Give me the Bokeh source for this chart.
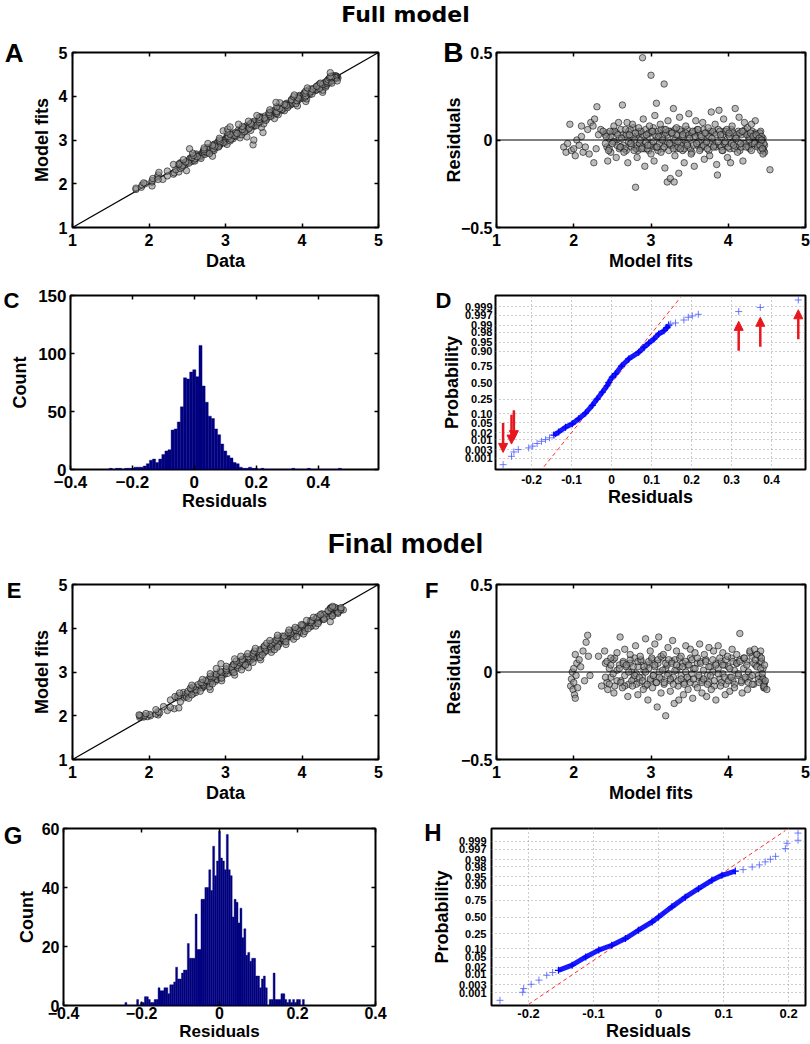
import numpy as np
from statistics import NormalDist
from bokeh.plotting import figure
from bokeh.layouts import row, column
from bokeh.models import Range1d, FixedTicker, LinearAxis, Span, Label, Arrow, NormalHead
from bokeh.embed import file_html
from bokeh.resources import INLINE

# ---------------------------------------------------------------- data
core_fits = [2.41, 2.43, 2.46, 2.48, 2.51, 2.53, 2.56, 2.59, 2.61, 2.64,
             2.66, 2.68, 2.71, 2.73, 2.75, 2.77, 2.79, 2.81, 2.83, 2.85,
             2.87, 2.89, 2.91, 2.93, 2.95, 2.97, 2.99, 3.01, 3.03, 3.05,
             3.07, 3.09, 3.11, 3.13, 3.15, 3.17, 3.19, 3.21, 3.23, 3.25,
             3.27, 3.29, 3.31, 3.33, 3.35, 3.37, 3.39, 3.41, 3.43, 3.45,
             3.47, 3.49, 3.51, 3.53, 3.55, 3.57, 3.60, 3.62, 3.64, 3.66,
             3.68, 3.71, 3.73, 3.75, 3.77, 3.80, 3.82, 3.84, 3.87, 3.89,
             3.91, 3.93, 3.95, 3.97, 4.00, 4.02, 4.04, 4.06, 4.08, 4.11,
             4.13, 4.15, 4.17, 4.20, 4.22, 4.24, 4.26, 4.28, 4.31, 4.33,
             4.35, 4.37, 4.39, 4.41, 4.42, 4.43, 4.44, 4.45, 4.46, 4.47]
core_resid_full = [0.03, -0.04, 0.01, -0.07, 0.05, -0.01, 0.04, -0.05, 0.06, -0.03,
                   0.02, -0.06, 0.05, -0.02, 0.00, 0.07, -0.04, 0.02, -0.06, 0.05,
                   -0.02, 0.03, -0.05, 0.06, 0.01, -0.06, 0.04, -0.02, 0.07, -0.04,
                   0.02, -0.06, 0.04, 0.00, -0.05, 0.06, -0.02, 0.03, -0.06, 0.05,
                   -0.03, 0.01, 0.06, -0.05, 0.03, -0.01, 0.05, -0.06, 0.02, -0.02,
                   0.06, -0.04, 0.03, -0.07, 0.01, 0.05, -0.03, 0.04, -0.05, 0.00,
                   0.06, -0.02, 0.03, -0.06, 0.05, -0.01, 0.04, -0.04, 0.06, -0.03,
                   0.01, -0.06, 0.05, -0.02, 0.03, -0.05, 0.06, -0.01, 0.02, -0.04,
                   0.05, -0.06, 0.03, -0.02, 0.06, -0.03, 0.02, -0.05, 0.05, -0.01,
                   0.04, -0.03, 0.03, 0.00, 0.05, -0.02, -0.04, 0.01, -0.06, -0.03]
core_resid_full_2 = [-0.02, 0.04, -0.05, 0.02, -0.01, 0.05, -0.03, 0.01, -0.04, 0.03,
                     -0.05, 0.03, -0.01, 0.06, -0.04, 0.02, 0.00, -0.05, 0.04, -0.02,
                     0.05, -0.04, 0.02, -0.01, -0.05, 0.04, -0.03, 0.05, -0.01, 0.03,
                     -0.04, 0.05, -0.02, 0.06, 0.02, -0.04, 0.04, -0.01, 0.05, -0.03,
                     0.04, -0.05, 0.00, 0.03, -0.04, 0.06, -0.03, 0.02, -0.05, 0.04,
                     -0.02, 0.03, -0.05, 0.04, -0.03, 0.02, 0.06, -0.01, 0.03, -0.04,
                     -0.03, 0.04, -0.05, 0.02, -0.02, 0.05, -0.03, 0.03, -0.01, 0.05,
                     -0.04, 0.03, -0.02, 0.05, -0.04, 0.02, -0.02, 0.04, -0.05, 0.03,
                     -0.01, 0.04, -0.04, 0.05, -0.02, 0.03, -0.04, 0.02, -0.02, 0.03,
                     -0.01, 0.02, -0.03, 0.04, -0.01, 0.02, 0.00, -0.05, -0.02, -0.07]
core_resid_final = [0.05, -0.06, 0.02, -0.03, 0.07, -0.08, 0.01, 0.04, -0.05, 0.06,
                    -0.02, 0.03, -0.07, 0.05, 0.00, -0.04, 0.08, -0.01, 0.03, -0.06,
                    0.06, -0.03, 0.01, -0.08, 0.04, 0.02, -0.05, 0.07, -0.02, 0.03,
                    -0.06, 0.05, 0.00, -0.04, 0.08, -0.07, 0.02, 0.04, -0.01, -0.05,
                    0.06, -0.03, 0.07, 0.01, -0.08, 0.03, -0.02, 0.05, -0.06, 0.00,
                    0.04, -0.04, 0.08, -0.01, 0.02, -0.07, 0.05, -0.03, 0.06, -0.05,
                    0.01, 0.07, -0.02, -0.06, 0.03, 0.00, -0.08, 0.05, 0.02, -0.04,
                    0.06, -0.01, 0.04, -0.07, 0.03, -0.03, 0.08, -0.05, 0.01, 0.05,
                    -0.02, 0.07, -0.06, 0.02, -0.04, 0.06, 0.00, -0.03, 0.09, -0.07,
                    0.04, 0.10, -0.02, 0.06, 0.12, -0.05, -0.03, 0.02, -0.09, -0.06]
core_resid_final_2 = [-0.03, 0.06, -0.07, 0.04, -0.01, 0.08, -0.05, 0.02, -0.06, 0.05,
                      -0.08, 0.04, 0.00, 0.07, -0.05, 0.03, -0.02, -0.07, 0.06, -0.03,
                      0.07, -0.05, 0.03, 0.00, -0.07, 0.06, -0.04, 0.08, -0.02, 0.04,
                      -0.06, 0.07, -0.03, 0.09, 0.01, -0.06, 0.05, -0.02, 0.07, -0.04,
                      0.05, -0.07, 0.01, 0.04, -0.05, 0.08, -0.04, 0.03, -0.07, 0.06,
                      -0.03, 0.04, -0.06, 0.07, -0.04, 0.02, 0.08, -0.02, 0.05, -0.06,
                      -0.04, 0.06, -0.07, 0.03, -0.02, 0.07, -0.05, 0.04, -0.01, 0.08,
                      -0.06, 0.04, -0.03, 0.07, -0.05, 0.02, -0.03, 0.06, -0.07, 0.05,
                      -0.01, 0.06, -0.05, 0.08, -0.03, 0.04, -0.06, 0.11, -0.02, 0.05,
                      0.07, 0.03, -0.04, 0.09, 0.02, 0.06, -0.01, -0.04, -0.07, -0.09]
extra_full = [(1.87, -0.04), (1.90, -0.07), (1.92, -0.02), (1.95, 0.09), (1.97, -0.06),
              (2.00, -0.05), (2.02, -0.09), (2.04, 0.00), (2.07, -0.03), (2.10, 0.08),
              (2.12, -0.07), (2.15, -0.04), (2.18, 0.06), (2.20, -0.08), (2.22, 0.10),
              (2.25, 0.08), (2.27, 0.12), (2.29, -0.05), (2.30, 0.19), (2.32, 0.03),
              (2.35, 0.06), (2.38, 0.05), (2.26, -0.13), (2.10, 0.02),
              (2.42, 0.02), (2.45, -0.06), (2.47, 0.05), (2.50, -0.02), (2.52, 0.08),
              (2.55, -0.10), (2.57, 0.03), (2.60, -0.04), (2.44, -0.12), (2.58, 0.10),
              (2.62, 0.01), (2.63, 0.20), (2.65, -0.07), (2.67, 0.06), (2.70, -0.13),
              (2.72, 0.03), (2.74, -0.02), (2.76, 0.09), (2.78, -0.06), (2.80, 0.04),
              (2.80, -0.27), (2.69, 0.10), (2.82, -0.10), (2.84, 0.07), (2.86, 0.00),
              (2.88, -0.05), (2.89, 0.47), (2.90, 0.12), (2.92, -0.15), (2.94, 0.03),
              (2.96, -0.03), (2.98, 0.08), (3.00, 0.37), (3.00, -0.08), (3.02, 0.05),
              (3.04, -0.12), (3.05, 0.14), (3.07, 0.21), (3.08, -0.04), (3.10, 0.02),
              (3.12, 0.09), (3.13, -0.07), (3.15, 0.00), (3.17, 0.32), (3.18, -0.16),
              (3.19, 0.06), (3.21, -0.24), (3.22, 0.11), (3.24, -0.02), (3.25, -0.22),
              (3.27, 0.04), (3.29, 0.18), (3.30, -0.24), (3.31, -0.09), (3.33, 0.07),
              (3.35, -0.01), (3.37, 0.13), (3.38, -0.05), (3.36, -0.19), (3.41, 0.03),
              (3.43, -0.13), (3.45, 0.08), (3.47, -0.03), (3.49, 0.15), (3.50, 0.01),
              (3.52, -0.08), (3.54, 0.05), (3.56, -0.15), (3.58, 0.11), (3.59, -0.02),
              (3.61, 0.06), (3.63, -0.06), (3.65, 0.02), (3.67, 0.10), (3.69, -0.11),
              (3.70, 0.04), (3.72, -0.01), (3.74, 0.07), (3.76, -0.09), (3.78, 0.16),
              (3.79, 0.01), (3.81, -0.04), (3.83, 0.09), (3.85, -0.14), (3.86, -0.20),
              (3.88, 0.17), (3.90, 0.03), (3.92, -0.06), (3.94, 0.12), (3.96, -0.01),
              (3.98, 0.06), (3.99, -0.10), (4.01, 0.04), (4.03, -0.13), (4.05, 0.08),
              (4.07, -0.03), (4.09, 0.18), (4.10, 0.01), (4.12, -0.07), (4.14, 0.13),
              (4.16, -0.02), (4.18, 0.05), (4.19, -0.12), (4.21, 0.10), (4.23, -0.04),
              (4.25, 0.07), (4.27, 0.00), (4.29, 0.04), (4.30, -0.06), (4.32, 0.02),
              (4.34, -0.02), (4.36, 0.03), (4.38, -0.04), (4.40, 0.01), (4.41, -0.03),
              (4.42, -0.06), (4.43, 0.00), (4.44, -0.05), (4.45, -0.08), (4.54, -0.17),
              (4.35, 0.11), (4.30, 0.09)]
extra_final = [(1.96, -0.08), (1.97, -0.04), (1.98, 0.00), (1.99, -0.10), (2.00, -0.06),
               (2.00, 0.02), (2.01, -0.13), (2.02, -0.15), (2.02, 0.10), (2.03, -0.02),
               (2.04, 0.05), (2.05, -0.09), (2.07, 0.07), (2.09, 0.03), (2.12, 0.12),
               (2.14, -0.05), (2.16, 0.17), (2.18, 0.21), (2.19, 0.09), (2.21, -0.02),
               (2.32, 0.09), (2.36, -0.08), (2.40, 0.12), (2.44, -0.10), (2.48, 0.08),
               (2.52, -0.12), (2.56, 0.11), (2.60, 0.20), (2.63, -0.09), (2.66, 0.13),
               (2.70, -0.14), (2.73, 0.10), (2.76, -0.08), (2.80, 0.15), (2.83, -0.13),
               (2.86, 0.09), (2.90, -0.10), (2.93, 0.19), (2.96, -0.16), (2.99, 0.12),
               (3.02, -0.09), (3.05, 0.16), (3.08, -0.20), (3.10, 0.20), (3.13, -0.12),
               (3.16, 0.10), (3.19, -0.25), (3.22, 0.14), (3.25, -0.11), (3.28, 0.18),
               (3.30, -0.18), (3.33, 0.12), (3.36, -0.16), (3.39, 0.09), (3.42, -0.13),
               (3.45, 0.15), (3.48, -0.10), (3.51, 0.13), (3.54, -0.15), (3.57, 0.11),
               (3.60, -0.09), (3.63, 0.16), (3.66, -0.12), (3.69, 0.10), (3.72, -0.14),
               (3.75, 0.14), (3.78, -0.10), (3.81, 0.12), (3.84, -0.16), (3.87, 0.15),
               (3.90, -0.08), (3.93, 0.11), (3.96, -0.13), (3.99, 0.09), (4.02, -0.11),
               (4.05, 0.13), (4.08, -0.09), (4.11, 0.10), (4.15, 0.22), (4.18, -0.12),
               (4.21, 0.08), (4.25, -0.10), (4.28, 0.12), (4.31, -0.07), (4.34, 0.13),
               (4.37, 0.10), (4.40, -0.06), (4.43, 0.08), (4.46, -0.08), (4.48, -0.05),
               (4.50, -0.10), (4.47, 0.04)]

hist_full_first = -0.28
hist_full_width = 0.01
hist_full_counts = [0, 1, 0, 1, 1, 0, 1, 1, 1, 2,
                    2, 2, 3, 5, 8, 9, 6, 9, 13, 16,
                    17, 34, 35, 41, 54, 79, 78, 84, 86, 80,
                    107, 72, 58, 46, 44, 35, 30, 22, 16, 12,
                    10, 6, 5, 2, 1, 1, 2, 1, 1, 0,
                    1, 0, 0, 0, 0, 0, 0, 0, 0, 0,
                    1, 0, 0, 0, 0, 1, 0, 0, 0, 0,
                    0, 0, 0, 0, 0, 1]
hist_final_first = -0.24
hist_final_width = 0.005
hist_final_counts = [1, 0, 0, 0, 0, 0, 2, 0, 1, 1,
                     3, 3, 2, 1, 1, 2, 2, 6, 5, 5,
                     6, 6, 4, 7, 7, 8, 13, 9, 9, 11,
                     12, 12, 21, 16, 16, 16, 31, 19, 19, 36,
                     36, 40, 40, 46, 39, 54, 44, 49, 59, 50,
                     49, 46, 58, 46, 44, 30, 36, 35, 28, 33,
                     23, 26, 17, 18, 15, 16, 16, 10, 10, 6,
                     9, 10, 6, 0, 2, 2, 11, 2, 2, 2,
                     4, 4, 2, 1, 2, 1, 2, 1, 2, 2,
                     0, 2]

npp_full_body_res = [-0.144, -0.132, -0.115, -0.098, -0.082, -0.065, -0.048, -0.036,
                     -0.023, -0.011, -0.007, 0.002, 0.010, 0.025, 0.043, 0.068,
                     0.081, 0.093, 0.106, 0.118, 0.131, 0.139, 0.143]
npp_full_body_prob = [0.016, 0.0217, 0.034, 0.046, 0.069, 0.106, 0.176, 0.25,
                      0.347, 0.447, 0.50, 0.587, 0.637, 0.749, 0.832, 0.891,
                      0.924, 0.946, 0.962, 0.976, 0.9826, 0.9875, 0.9904]
npp_full_tail_res = [-0.271, -0.250, -0.244, -0.233, -0.207, -0.197, -0.186, -0.175,
                     -0.165, -0.155, 0.148, 0.160, 0.181, 0.192, 0.202, 0.217,
                     0.318, 0.372, 0.467]
npp_full_tail_prob = [0.0004, 0.0013, 0.0023, 0.0031, 0.0038, 0.0047, 0.0064, 0.0082,
                      0.0099, 0.012, 0.9915, 0.99245, 0.9946, 0.9961, 0.9967, 0.9973,
                      0.9981, 0.9989, 0.99962]
npp_full_ref_res = [-0.169, 0.1725]
npp_full_ref_prob = [0.00029, 0.99974]
npp_full_marked_low = [0, 1, 2]
npp_full_marked_high = [16, 17, 18]

npp_final_body_res = [-0.154, -0.133, -0.112, -0.092, -0.072, -0.051, -0.031, -0.010,
                      0.000, 0.0205, 0.041, 0.0615, 0.082, 0.0975, 0.118]
npp_final_body_prob = [0.015, 0.025, 0.052, 0.089, 0.125, 0.19, 0.295, 0.42,
                       0.50, 0.66, 0.79, 0.875, 0.932, 0.955, 0.969]
npp_final_tail_res = [-0.244, -0.209, -0.2075, -0.196, -0.184, -0.172, -0.163,
                      0.130, 0.144, 0.155, 0.164, 0.172, 0.180, 0.195, 0.1975,
                      0.2145, 0.2145]
npp_final_tail_prob = [0.00035, 0.0011, 0.0018, 0.0031, 0.0051, 0.0089, 0.012,
                       0.973, 0.979, 0.983, 0.9875, 0.9906, 0.9932, 0.9973, 0.99865,
                       0.9991, 0.99968]
npp_final_ref_res = [-0.200, 0.195]
npp_final_ref_prob = [0.00019, 0.99978]

prob_ticks = [0.001, 0.003, 0.01, 0.02, 0.05, 0.10, 0.25, 0.50, 0.75, 0.90,
              0.95, 0.98, 0.99, 0.997, 0.999]
prob_tick_labels = ["0.001", "0.003", "0.01", "0.02", "0.05", "0.10", "0.25", "0.50",
                    "0.75", "0.90", "0.95", "0.98", "0.99", "0.997", "0.999"]

# ---------------------------------------------------------------- helpers
FONT = "Liberation Sans"
ND = NormalDist()


def zq(ps):
    return [ND.inv_cdf(p) for p in ps]


def fmt(t, minus="\u2212"):
    if t == 0:
        return "0"
    return (minus if t < 0 else "") + ("%g" % abs(t))


def make_fig(w, h, bl, br, bt, bb, xr, yr):
    p = figure(width=w, height=h, x_range=Range1d(*xr), y_range=Range1d(*yr),
               output_backend="svg", toolbar_location=None,
               min_border_left=bl, min_border_right=br,
               min_border_top=bt, min_border_bottom=bb)
    p.xgrid.visible = False
    p.ygrid.visible = False
    p.outline_line_color = "black"
    p.outline_line_width = 2
    p.outline_line_alpha = 1
    return p


def style_axis(ax, ticks, labels, tsize, tstand, lsize, lstand, tick_in=4):
    ax.ticker = FixedTicker(ticks=ticks)
    ax.major_label_overrides = {t: l for t, l in zip(ticks, labels)}
    ax.major_label_text_font = FONT
    ax.major_label_text_font_style = "bold"
    ax.major_label_text_font_size = f"{tsize}px"
    ax.major_label_text_color = "black"
    ax.major_label_standoff = tstand
    ax.axis_label_text_font = FONT
    ax.axis_label_text_font_style = "bold"
    ax.axis_label_text_font_size = f"{lsize}px"
    ax.axis_label_text_color = "black"
    ax.axis_label_standoff = lstand
    ax.major_tick_in = tick_in
    ax.major_tick_out = 0
    ax.major_tick_line_width = 1.5
    ax.minor_tick_line_color = None
    ax.axis_line_color = None


def add_box(p, xticks, yticks):
    for side, ticks in (("above", xticks), ("right", yticks)):
        ax = LinearAxis(ticker=FixedTicker(ticks=ticks),
                        major_label_overrides={t: "" for t in ticks},
                        major_label_standoff=0, major_label_text_font_size="1px",
                        major_tick_in=4, major_tick_out=0, major_tick_line_width=1.5,
                        minor_tick_line_color=None, axis_line_color=None)
        p.add_layout(ax, side)


def letter_axis(p, txt, size, standoff, px_below, frame_h):
    """Panel letter drawn as the single tick label of an outer left axis."""
    yr = p.y_range
    yv = yr.end - px_below * (yr.end - yr.start) / frame_h
    ax = LinearAxis(ticker=FixedTicker(ticks=[yv]), major_label_overrides={yv: txt},
                    major_label_text_font=FONT, major_label_text_font_style="bold",
                    major_label_text_font_size=f"{size}px", major_label_text_color="black",
                    major_label_standoff=standoff, major_tick_in=0, major_tick_out=0,
                    major_tick_line_color=None, minor_tick_line_color=None,
                    axis_line_color=None)
    p.add_layout(ax, "left")


def title_fig(h, txt, font, size, ymid):
    p = figure(width=810, height=h, x_range=Range1d(0, 1), y_range=Range1d(0, 1),
               output_backend="svg", toolbar_location=None, min_border=0,
               x_axis_type=None, y_axis_type=None)
    p.outline_line_color = None
    p.add_layout(Label(x=0.5, y=ymid, text=txt, text_font=font, text_font_style="bold",
                       text_font_size=f"{size}px", text_align="center",
                       text_baseline="middle", text_color="black"))
    return p


SC = dict(marker="circle", size=6.5, fill_color="#909090", fill_alpha=0.6,
          line_color="#000000", line_alpha=0.8, line_width=0.7)
U5 = [1, 2, 3, 4, 5]


def fit_vs_data(fits, resid, lab, lsize, lstand, lbelow, top, bottom, height):
    fh = height - top - bottom
    p = make_fig(420, height, 72, 42, top, bottom, (1, 5), (1, 5))
    data = np.array(fits) + np.array(resid)
    p.line([1, 5], [1, 5], line_color="black", line_width=1.2)
    p.scatter(data, fits, **SC)
    p.xaxis.axis_label = "Data"
    p.yaxis.axis_label = "Model fits"
    style_axis(p.xaxis[0], U5, [fmt(t) for t in U5], 16, 6, 18, 2)
    style_axis(p.yaxis[0], U5, [fmt(t) for t in U5], 16, 5, 18, 4)
    add_box(p, U5, U5)
    letter_axis(p, lab, lsize, lstand, lbelow, fh)
    return p


def resid_vs_fit(fits, resid, lab, lsize, lstand, lbelow, top, bottom, height):
    fh = height - top - bottom
    p = make_fig(390, height, 76, 5, top, bottom, (1, 5), (-0.5, 0.5))
    p.add_layout(Span(location=0, dimension="width", line_color="black", line_width=1.2))
    p.scatter(fits, resid, **SC)
    p.xaxis.axis_label = "Model fits"
    p.yaxis.axis_label = "Residuals"
    yt = [-0.5, 0, 0.5]
    style_axis(p.xaxis[0], U5, [fmt(t) for t in U5], 16, 6, 18, 2)
    style_axis(p.yaxis[0], yt, [fmt(t) for t in yt], 16, 4, 18, -6)
    add_box(p, U5, yt)
    letter_axis(p, lab, lsize, lstand, lbelow, fh)
    return p


def histo(first, width, counts, xr, yr, xt, yt, w, h, bl, br, bt, bb, tsize, xlsize,
          ylsize, xtstand, ystand, lab, lsize, lstand, lbelow):
    p = make_fig(w, h, bl, br, bt, bb, xr, yr)
    c = np.array(counts, dtype=float)
    left = first - width / 2 + width * np.arange(len(c))
    p.quad(left=left, right=left + width, bottom=0, top=c,
           fill_color="#00007f", line_color="#00007f", line_width=0.4)
    p.xaxis.axis_label = "Residuals"
    p.yaxis.axis_label = "Count"
    style_axis(p.xaxis[0], xt, [fmt(t) for t in xt], tsize, xtstand, xlsize, 0)
    style_axis(p.yaxis[0], yt, [fmt(t) for t in yt], tsize, 4, ylsize, ystand)
    add_box(p, xt, yt)
    letter_axis(p, lab, lsize, lstand, lbelow, h - bt - bb)
    return p


def normplot(body_r, body_p, tail_r, tail_p, ref_r, ref_p, xr, yr, xt, w, h, bl, br,
             bt, bb, xts, xtstand, lab, lsize, lstand, lbelow, ytstand, ylstand,
             lows=(), highs=()):
    p = make_fig(w, h, bl, br, bt, bb, xr, yr)
    zt = zq(prob_ticks)
    for g, tk in ((p.xgrid, FixedTicker(ticks=xt)), (p.ygrid, FixedTicker(ticks=zt))):
        g.visible = True
        g.ticker = tk
        g.grid_line_color = "#9a9a9a"
        g.grid_line_dash = "1 3"
        g.grid_line_width = 1
    p.line(ref_r, zq(ref_p), line_color="#ff3030", line_dash="4 3", line_width=1)
    p.line(body_r, zq(body_p), line_color="#0000ff", line_width=5, line_alpha=0.9)
    p.scatter(body_r, zq(body_p), marker="cross", size=7, line_color="#0000ff",
              line_width=1.2)
    p.scatter(tail_r, zq(tail_p), marker="cross", size=7, line_color="#4b5bff",
              line_alpha=0.8, line_width=1)
    zt_tail = zq(tail_p)
    for i in highs:
        tip = zt_tail[i] - 0.4
        p.add_layout(Arrow(end=NormalHead(size=9, fill_color="#e8171f", line_color="#e8171f"),
                           x_start=tail_r[i], y_start=tip - 1.2, x_end=tail_r[i], y_end=tip,
                           line_color="#e8171f", line_width=2.5))
    for i in lows:
        tip = zt_tail[i] + 0.5
        p.add_layout(Arrow(end=NormalHead(size=9, fill_color="#e8171f", line_color="#e8171f"),
                           x_start=tail_r[i], y_start=tip + 1.2, x_end=tail_r[i], y_end=tip,
                           line_color="#e8171f", line_width=2.5))
    p.xaxis.axis_label = "Residuals"
    p.yaxis.axis_label = "Probability"
    style_axis(p.xaxis[0], xt, [fmt(t, "-") for t in xt], xts, xtstand, 18, 0, tick_in=0)
    style_axis(p.yaxis[0], zt, prob_tick_labels, 11, ytstand, 18, ylstand, tick_in=0)
    letter_axis(p, lab, lsize, lstand, lbelow, h - bt - bb)
    return p


# ---------------------------------------------------------------- panels
full_fits = core_fits + core_fits + [a for a, _ in extra_full]
full_resid = core_resid_full + core_resid_full_2 + [b for _, b in extra_full]
final_fits = core_fits + core_fits + [a for a, _ in extra_final]
final_resid = core_resid_final + core_resid_final_2 + [b for _, b in extra_final]

t1 = title_fig(34, "Full model", "DejaVu Sans", 22, 0.59)
pA = fit_vs_data(full_fits, full_resid, "A", 26, 5, 0, 18, 58, 251)
pB = resid_vs_fit(full_fits, full_resid, "B", 28, -23, 0, 18, 58, 251)

pC = histo(hist_full_first, hist_full_width, hist_full_counts, (-0.4, 0.595), (0, 150),
           [-0.4, -0.2, 0, 0.2, 0.4], [0, 50, 100, 150], 420, 235, 70, 42, 10, 51,
           17, 18, 18, 6, 5, "C", 22, -12, 5)
pD = normplot(npp_full_body_res, npp_full_body_prob, npp_full_tail_res, npp_full_tail_prob,
              npp_full_ref_res, npp_full_ref_prob, (-0.29, 0.485), (-3.55, 3.55),
              [-0.2, -0.1, 0, 0.1, 0.2, 0.3, 0.4], 390, 235, 75, 5, 10, 51, 12, 5,
              "D", 22, -13, 5, 3, 0, npp_full_marked_low, npp_full_marked_high)

t2 = title_fig(46, "Final model", FONT, 28, 0.5)
pE = fit_vs_data(final_fits, final_resid, "E", 22, 7, 6, 18, 51, 244)
pF = resid_vs_fit(final_fits, final_resid, "F", 22, 2, 6, 18, 51, 244)

pG = histo(hist_final_first, hist_final_width, hist_final_counts, (-0.4, 0.4), (0, 60),
           [-0.4, -0.2, 0, 0.2, 0.4], [0, 20, 40, 60], 420, 234, 62, 45, 18, 39,
           16, 17, 18, 1, 2, "G", 24, -9, 7)
pH = normplot(npp_final_body_res, npp_final_body_prob, npp_final_tail_res,
              npp_final_tail_prob, npp_final_ref_res, npp_final_ref_prob,
              (-0.257, 0.226), (-3.6, 3.6), [-0.2, -0.1, 0, 0.1, 0.2], 390, 234, 71, 5,
              18, 39, 13, 3, "H", 24, -13, 4, 5, 4)

layout = column(t1, row(pA, pB, spacing=0), row(pC, pD, spacing=0), t2,
                row(pE, pF, spacing=0), row(pG, pH, spacing=0), spacing=0)

open("out.html", "w").write(file_html(layout, INLINE))
